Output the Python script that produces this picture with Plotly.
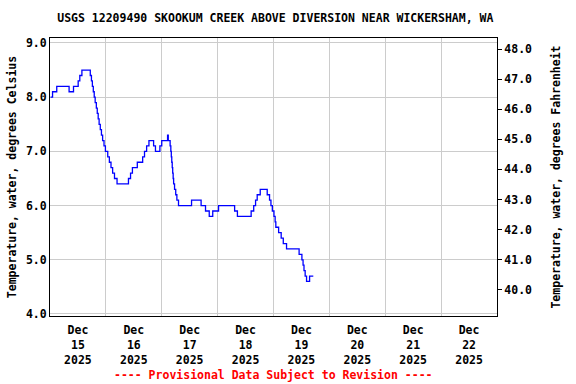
import pandas as pd
import plotly.graph_objects as go

# Change points: hours since 2025-12-15 00:00 and water temperature (deg C)
hours = [0.25, 1.1, 2.9, 8.2, 10.1, 12.1, 12.8, 13.7, 17.3, 17.8, 18.2, 18.6, 19.0, 19.4,
         19.9, 20.3, 20.7, 21.1, 21.6, 22.1, 22.6, 23.2, 23.8, 24.8, 25.5, 26.2, 26.9, 27.7,
         28.8, 33.7, 34.6, 35.4, 37.5, 39.8, 40.6, 41.5, 42.5, 44.5, 45.3, 47.2, 48.0, 50.5,
         50.8, 51.6, 51.9, 52.1, 52.3, 52.5, 52.7, 52.9, 53.1, 53.5, 54.0, 54.5, 55.2, 60.8,
         64.9, 66.8, 68.4, 69.9, 72.4, 79.3, 80.5, 86.4, 87.5, 88.3, 89.0, 90.3, 93.3, 94.3,
         94.9, 95.5, 96.2, 96.7, 97.0, 98.2, 99.3, 100.2, 101.6, 107.0, 108.2, 108.7, 109.1,
         109.6, 110.2, 111.5, 113.1]
temps_c = [8.0, 8.1, 8.2, 8.1, 8.2, 8.3, 8.4, 8.5, 8.4, 8.3, 8.2, 8.1, 8.0, 7.9,
           7.8, 7.7, 7.6, 7.5, 7.4, 7.3, 7.2, 7.1, 7.0, 6.9, 6.8, 6.7, 6.6, 6.5,
           6.4, 6.5, 6.6, 6.7, 6.8, 6.9, 7.0, 7.1, 7.2, 7.1, 7.0, 7.1, 7.2, 7.3,
           7.2, 7.1, 7.0, 6.9, 6.8, 6.7, 6.6, 6.5, 6.4, 6.3, 6.2, 6.1, 6.0, 6.1,
           6.0, 5.9, 5.8, 5.9, 6.0, 5.9, 5.8, 5.9, 6.0, 6.1, 6.2, 6.3, 6.2, 6.1,
           6.0, 5.9, 5.8, 5.7, 5.6, 5.5, 5.4, 5.3, 5.2, 5.1, 5.0, 4.9, 4.8,
           4.7, 4.6, 4.7, 4.7]

start = pd.Timestamp("2025-12-15 00:00")
times = [start + pd.Timedelta(hours=h) for h in hours]

y_range_c = [3.963, 9.092]
y_range_f = [v * 1.8 + 32 for v in y_range_c]

FONT = "DejaVu Sans Mono"

fig = go.Figure()
fig.add_trace(go.Scatter(x=times, y=temps_c, mode="lines", line_shape="hv",
                         line=dict(color="#0000ff", width=1.3), showlegend=False,
                         hoverinfo="skip"))

fig.update_layout(
    width=576, height=384,
    margin=dict(l=50, r=79, t=38, b=68, autoexpand=False),
    paper_bgcolor="white", plot_bgcolor="white",
    font=dict(family=FONT, size=11.5, color="black", weight="bold"),
    title=dict(text="USGS 12209490 SKOOKUM CREEK ABOVE DIVERSION NEAR WICKERSHAM, WA",
               x=0.478, xanchor="center", y=0.952, yanchor="middle", automargin=False,
               font=dict(family=FONT, size=11.5, color="black", weight="bold")),
    xaxis=dict(type="date", range=["2025-12-15 00:00", "2025-12-23 00:00"],
               tick0="2025-12-15", dtick=86400000, ticklabelmode="period",
               tickformat="%b<br>%d<br>%Y", showgrid=True, gridcolor="#cccccc",
               gridwidth=1, showline=True, linecolor="black", linewidth=1,
               mirror=True, ticks="", zeroline=False, automargin=False,
               ticklabelstandoff=3,
               tickfont=dict(family=FONT, size=11.5, weight="bold")),
    yaxis=dict(range=y_range_c, dtick=1.0, tick0=4.0, tickformat=".1f",
               showgrid=True, gridcolor="#cccccc", gridwidth=1,
               showline=True, linecolor="black", linewidth=1, mirror=True,
               ticks="", zeroline=False, automargin=False,
               title=dict(text="Temperature, water, degrees Celsius", standoff=6,
                          font=dict(family=FONT, size=11.5, weight="bold")),
               tickfont=dict(family=FONT, size=11.5, weight="bold")),
    yaxis2=dict(range=y_range_f, overlaying="y", side="right", dtick=1.0, tick0=40.0,
                tickformat=".1f", showgrid=False, ticks="outside", ticklen=4,
                tickcolor="black", showline=False, zeroline=False, automargin=False,
                title=dict(text="Temperature, water, degrees Fahrenheit", standoff=20,
                           font=dict(family=FONT, size=11.5, weight="bold")),
                tickfont=dict(family=FONT, size=11.5, weight="bold")),
)

# Invisible trace on the Fahrenheit axis so it is rendered
fig.add_trace(go.Scatter(x=times, y=[c * 1.8 + 32 for c in temps_c], yaxis="y2",
                         mode="lines", line=dict(color="rgba(0,0,0,0)"),
                         showlegend=False, hoverinfo="skip"))

fig.add_annotation(text="---- Provisional Data Subject to Revision ----",
                   xref="paper", yref="paper", x=0.5, y=0, yshift=-59,
                   xanchor="center", yanchor="middle", showarrow=False,
                   font=dict(family=FONT, size=11.5, color="red", weight="bold"))

fig.write_html("out.html",
               config={"displayModeBar": False},
               post_script="document.body.style.margin='0px';"
                           "document.body.style.overflow='hidden';")
